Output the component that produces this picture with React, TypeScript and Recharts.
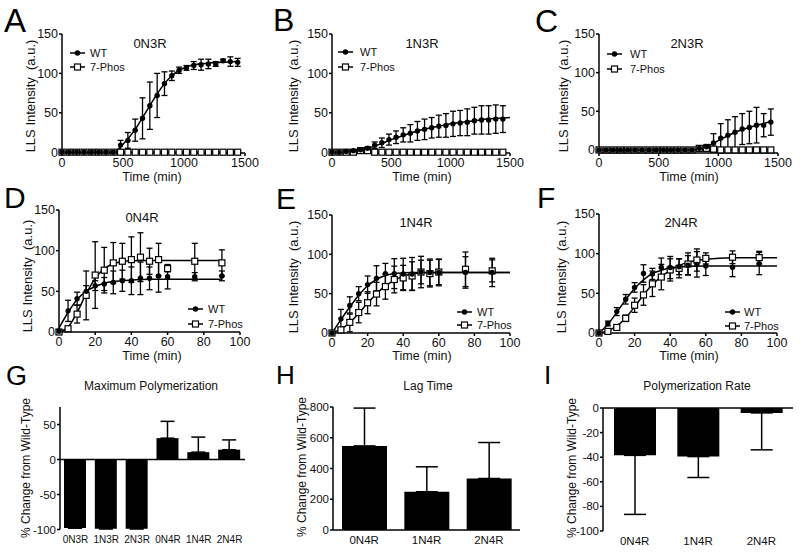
import React from 'react';
import { ComposedChart, BarChart, Bar, Line, Scatter, XAxis, YAxis, ErrorBar, ReferenceLine } from 'recharts';

const FONT = '"Liberation Sans", Arial, Helvetica, sans-serif';
const INK = '#111';

// ---------- Row 1: 3R isoforms, sampled every 60 min ----------
const t3R = [0, 60, 120, 180, 240, 300, 360, 420, 480, 540, 600, 660, 720, 780, 840, 900, 960, 1020, 1080, 1140, 1200, 1260, 1320, 1380, 1440];

const wt0N3R = [0, 0, 0, 0, 0, 0, 0, 0, 9, 15, 28, 43, 59, 72, 87, 97, 104, 107, 110, 111, 112, 112, 116, 115, 114];
const wt0N3RErr = [0, 0, 0, 0, 0, 0, 0, 0, 6, 10, 14, 26, 30, 28, 15, 6, 4, 3, 5, 7, 6, 3, 2, 6, 5];
const ph0N3R = [0, 0, 0, 0, 0, 0, 0, 0, 0, 0, 0, 0, 0, 0, 0, 0, 0, 0, 0, 0, 0, 0, 0, 0, 0];
const ph0N3RErr = [0, 0, 0, 0, 0, 0, 0, 0, 0, 0, 0, 0, 0, 0, 0, 0, 0, 0, 0, 0, 0, 0, 0, 0, 1];
const fitT0N3R = [0, 420, 480, 540, 600, 660, 720, 780, 840, 900, 960, 1020, 1080, 1200, 1320, 1440];
const fitWt0N3R = [0, 0, 7, 17, 29, 44, 59, 74, 87, 97, 104, 108, 111, 113, 114, 115];
const fitPhT0N3R = [0, 1440];
const fitPh0N3R = [0, 0];

const wt1N3R = [0, 0, 1, 2, 3, 5, 9, 12, 16, 19, 22, 24, 27, 29, 31, 33, 34, 36, 37, 38, 40, 41, 41, 42, 42];
const wt1N3RErr = [0, 0, 0, 1, 2, 2, 4, 6, 7, 8, 9, 11, 12, 13, 13, 14, 15, 16, 16, 17, 17, 18, 18, 18, 17];
const ph1N3R = [0, 0, 0, 0, 2, 2, 0, 0, 0, 0, 0, 0, 0, 0, 0, 0, 0, 0, 0, 0, 0, 0, 0, 0, 0];
const ph1N3RErr = [0, 0, 0, 0, 1, 1, 0, 0, 0, 0, 0, 0, 0, 0, 0, 0, 0, 0, 0, 0, 0, 0, 0, 0, 1];
const fitT1N3R = [0, 120, 200, 300, 400, 500, 600, 700, 800, 900, 1000, 1100, 1200, 1300, 1400, 1500];
const fitWt1N3R = [0, 0, 1, 5, 10, 16, 21, 26, 30, 33, 36, 38, 40, 42, 43, 44];
const fitPhT1N3R = [0, 1440];
const fitPh1N3R = [0, 0];

const wt2N3R = [0, 0, 0, 0, 0, 0, 0, 0, 0, 0, 0, 0, 0, 0, 2, 4, 9, 15, 19, 23, 27, 29, 32, 32, 36];
const wt2N3RErr = [0, 0, 0, 0, 0, 0, 0, 0, 0, 0, 0, 0, 0, 0, 2, 3, 12, 19, 20, 20, 20, 21, 23, 15, 17];
const ph2N3R = [0, 0, 0, 0, 0, 0, 0, 0, 0, 0, 0, 0, 0, 0, 2, 2, 1, 0, 0, 0, 0, 0, 0, 0, 0];
const ph2N3RErr = [0, 0, 0, 0, 0, 0, 0, 0, 0, 0, 0, 0, 0, 0, 1, 1, 1, 0, 0, 0, 0, 0, 0, 0, 1];
const fitT2N3R = [0, 780, 850, 900, 950, 1000, 1100, 1200, 1300, 1400, 1440];
const fitWt2N3R = [0, 0, 1, 4, 8, 12, 20, 26, 31, 35, 37];
const fitPhT2N3R = [0, 1440];
const fitPh2N3R = [0, 0];

// ---------- Row 2: 4R isoforms, minutes ----------
const t4R = [0, 5, 10, 15, 20, 25, 30, 35, 40, 45, 50, 55, 60, 75, 90];

const wt0N4R = [1, 26, 41, 50, 57, 59, 61, 63, 63, 66, 66, 69, 68, 68, 69];
const wt0N4RErr = [0, 13, 8, 7, 6, 8, 14, 13, 17, 20, 14, 20, 15, 5, 6];
const ph0N4R = [0, 4, 22, 45, 70, 76, 85, 87, 89, 92, 87, 89, 78, 87, 85];
const ph0N4RErr = [0, 2, 11, 30, 41, 28, 25, 22, 28, 30, 16, 20, 4, 22, 16];
const fitT0N4R = [0, 5, 10, 15, 20, 25, 30, 35, 40, 50, 60, 75, 90];
const fitWt0N4R = [5, 24, 40, 50, 56, 60, 62, 63, 64, 65, 65, 65, 65];
const fitPh0N4R = [0, 6, 24, 47, 66, 78, 84, 86.5, 87.5, 88, 88, 88, 88];

const wt1N4R = [0, 18, 35, 50, 61.5, 69.5, 75.5, 75.5, 75, 75, 77.5, 77, 77, 77, 77];
const wt1N4RErr = [0, 12, 11, 9, 11, 16, 13, 19, 20, 21, 20, 17, 17, 20, 18];
const ph1N4R = [0, 4, 13.5, 26, 38.5, 49.5, 59, 68, 70, 72.5, 77.5, 75.5, 77.5, 81, 79];
const ph1N4RErr = [0, 3, 12, 13, 14, 15, 16, 17, 16, 18, 15, 17, 16, 22, 14];
const fitT1N4R = [0, 5, 10, 15, 20, 25, 30, 35, 40, 45, 50, 60, 100];
const fitWt1N4R = [0, 17, 33, 48, 60, 68, 73, 75.5, 76.5, 77, 77, 77, 77];
const fitPh1N4R = [0, 5, 13, 25, 38, 50, 60, 67, 72, 75, 76.5, 77, 77];

const wt2N4R = [0, 12, 27, 42.5, 57.5, 75, 74.5, 82.5, 82.5, 83.5, 85.5, 86.5, 84.5, 83, 87.5];
const wt2N4RErr = [0, 3, 5, 6, 6, 11, 7, 12, 14, 10, 12, 16, 12, 12, 14];
const ph2N4R = [0, 2, 7, 18.5, 35, 48, 62, 70.5, 79.5, 81.5, 87, 92, 94, 95.5, 95];
const ph2N4RErr = [0, 1, 2, 4, 9, 13, 16, 16, 14, 12, 14, 14, 7, 8, 8];
const fitT2N4R = [0, 5, 10, 15, 20, 25, 30, 35, 40, 45, 50, 60, 75, 100];
const fitWt2N4R = [0, 11, 26, 42, 56, 67, 75, 79, 82, 83, 84, 84.5, 84.5, 84.5];
const fitPh2N4R = [0, 3, 9, 19, 33, 48, 61, 71, 79, 85, 89, 93, 95, 95];

// ---------- Row 3: summary bars ----------
const maxCats = ['0N3R', '1N3R', '2N3R', '0N4R', '1N4R', '2N4R'];
const maxVals = [-98, -99, -99, 30.5, 10.5, 14];
const maxErrUp = [0, 0, 0, 24, 21.5, 14];

const lagCats = ['0N4R', '1N4R', '2N4R'];
const lagVals = [547, 249, 335];
const lagErrUp = [246, 162, 234];

const rateCats = ['0N4R', '1N4R', '2N4R'];
const rateVals = [-38.5, -39.5, -4];
const rateErrDown = [48, 17, 30];

const mk = (ts: number[], ys: number[], es: number[]) => ts.map((t, i) => ({ t, y: ys[i], e: es[i] }));
const mkFit = (ts: number[], ys: number[]) => ts.map((t, i) => ({ t, y: ys[i] }));

const AXIS = { stroke: '#000', strokeWidth: 1.5 };

const SquareShape = (p: any) => {
  if (p.cx == null || p.cy == null) return <g />;
  return <rect x={p.cx - 3} y={p.cy - 3} width={6} height={6} fill="#fff" stroke="#000" strokeWidth={1.2} />;
};
const DotShape = (p: any) => {
  if (p.cx == null || p.cy == null) return <g />;
  return <circle cx={p.cx} cy={p.cy} r={2.7} fill="#000" />;
};

type LineProps = {
  rect: [number, number, number, number];
  xMax: number;
  xTicks: number[];
  wt: any[];
  ph: any[];
  wtFit: any[];
  phFit: any[];
};

function LinePanel({ rect, xMax, xTicks, wt, ph, wtFit, phFit }: LineProps) {
  const L = 40, T = 10, R = 14, B = 22;
  const [x0, y0, x1, y1] = rect;
  const w = x1 - x0 + L + R;
  const h = y1 - y0 + T + B;
  return (
    <div style={{ position: 'absolute', left: x0 - L, top: y0 - T }}>
      <ComposedChart width={w} height={h} margin={{ top: T, right: R, bottom: 0, left: 0 }}>
        <XAxis
          type="number"
          dataKey="t"
          domain={[0, xMax]}
          ticks={xTicks}
          interval={0}
          height={B}
          tickSize={3}
          tickMargin={2}
          axisLine={AXIS}
          tickLine={AXIS}
          tick={{ fill: INK, fontSize: 12.5, fontFamily: FONT }}
        />
        <YAxis
          type="number"
          dataKey="y"
          domain={[0, 150]}
          ticks={[0, 50, 100, 150]}
          interval={0}
          width={L}
          tickSize={3}
          tickMargin={1}
          axisLine={AXIS}
          tickLine={AXIS}
          tick={{ fill: INK, fontSize: 12.5, fontFamily: FONT }}
        />
        <Line data={phFit} dataKey="y" type="monotone" stroke="#000" strokeWidth={1.5} dot={false} isAnimationActive={false} />
        <Line data={wtFit} dataKey="y" type="monotone" stroke="#000" strokeWidth={1.5} dot={false} isAnimationActive={false} />
        <Scatter data={ph} dataKey="y" shape={SquareShape} isAnimationActive={false}>
          <ErrorBar dataKey="e" direction="y" width={3} stroke="#000" strokeWidth={1.3} />
        </Scatter>
        <Scatter data={wt} dataKey="y" shape={DotShape} isAnimationActive={false}>
          <ErrorBar dataKey="e" direction="y" width={3} stroke="#000" strokeWidth={1.3} />
        </Scatter>
      </ComposedChart>
    </div>
  );
}

type BarProps = {
  rect: [number, number, number, number];
  cats: string[];
  vals: number[];
  errs: [number, number][];
  domain: [number, number];
  ticks: number[];
  barSize: number;
  capHalf: number;
  zeroLine: boolean;
  xLine: boolean;
  catSize: number;
};

function BarPanel({ rect, cats, vals, errs, domain, ticks, barSize, capHalf, zeroLine, xLine, catSize }: BarProps) {
  const L = 40, T = 10, R = 8, B = 22;
  const [x0, y0, x1, y1] = rect;
  const w = x1 - x0 + L + R;
  const h = y1 - y0 + T + B;
  const data = cats.map((name, i) => ({ name, v: vals[i], err: errs[i] }));
  return (
    <div style={{ position: 'absolute', left: x0 - L, top: y0 - T }}>
      <BarChart width={w} height={h} data={data} margin={{ top: T, right: R, bottom: 0, left: 0 }}>
        <XAxis
          dataKey="name"
          type="category"
          interval={0}
          height={B}
          axisLine={xLine ? AXIS : false}
          tickLine={false}
          tickSize={0}
          tickMargin={6}
          tick={{ fill: INK, fontSize: catSize, fontFamily: FONT }}
        />
        <YAxis
          type="number"
          domain={domain}
          ticks={ticks}
          interval={0}
          width={L}
          tickSize={3}
          tickMargin={1}
          axisLine={AXIS}
          tickLine={AXIS}
          tick={{ fill: INK, fontSize: 11.5, fontFamily: FONT }}
        />
        <Bar dataKey="v" fill="#000" barSize={barSize} isAnimationActive={false}>
          <ErrorBar dataKey="err" direction="y" width={capHalf} stroke="#000" strokeWidth={1.5} />
        </Bar>
        {zeroLine && <ReferenceLine y={0} stroke="#000" strokeWidth={1.5} />}
      </BarChart>
    </div>
  );
}

function LegendRows({ x, y1, y2, tx }: { x: number; y1: number; y2: number; tx: number }) {
  const m = x + 7.5;
  return (
    <g>
      <line x1={x} x2={x + 15} y1={y1} y2={y1} stroke="#000" strokeWidth={1.5} />
      <circle cx={m} cy={y1} r={2.7} fill="#000" />
      <text x={tx} y={y1 + 4} fontSize={11} fontFamily={FONT} fill={INK}>WT</text>
      <line x1={x} x2={x + 15} y1={y2} y2={y2} stroke="#000" strokeWidth={1.5} />
      <rect x={m - 3} y={y2 - 3} width={6} height={6} fill="#fff" stroke="#000" strokeWidth={1.2} />
      <text x={tx} y={y2 + 4} fontSize={11} fontFamily={FONT} fill={INK}>7-Phos</text>
    </g>
  );
}

const YLab = ({ x, y, text, size }: { x: number; y: number; text: string; size: number }) => (
  <text transform={`translate(${x},${y}) rotate(-90)`} textAnchor="middle" fontSize={size} fontFamily={FONT} fill={INK} style={{ whiteSpace: 'pre' }}>
    {text}
  </text>
);
const CText = ({ x, y, text, size }: { x: number; y: number; text: string; size: number }) => (
  <text x={x} y={y} textAnchor="middle" fontSize={size} fontFamily={FONT} fill={INK}>{text}</text>
);
const Letter = ({ x, y, text, size }: { x: number; y: number; text: string; size: number }) => (
  <text x={x} y={y} fontSize={size} fontFamily={FONT} fill="#000">{text}</text>
);

export default function App() {
  const xt3 = [0, 500, 1000, 1500];
  const xt4 = [0, 20, 40, 60, 80, 100];
  const up = (e: number[]) => e.map((v) => [0, v] as [number, number]);
  const down = (e: number[]) => e.map((v) => [v, 0] as [number, number]);
  return (
    <div style={{ position: 'absolute', left: 0, top: 0, width: 800, height: 552, background: '#fff', overflow: 'hidden', fontFamily: FONT }}>
      <LinePanel rect={[62, 34, 245, 153]} xMax={1500} xTicks={xt3}
        wt={mk(t3R, wt0N3R, wt0N3RErr)} ph={mk(t3R, ph0N3R, ph0N3RErr)}
        wtFit={mkFit(fitT0N3R, fitWt0N3R)} phFit={mkFit(fitPhT0N3R, fitPh0N3R)} />
      <LinePanel rect={[332, 34, 510, 153]} xMax={1500} xTicks={xt3}
        wt={mk(t3R, wt1N3R, wt1N3RErr)} ph={mk(t3R, ph1N3R, ph1N3RErr)}
        wtFit={mkFit(fitT1N3R, fitWt1N3R)} phFit={mkFit(fitPhT1N3R, fitPh1N3R)} />
      <LinePanel rect={[599, 34, 778, 153]} xMax={1500} xTicks={xt3}
        wt={mk(t3R, wt2N3R, wt2N3RErr)} ph={mk(t3R, ph2N3R, ph2N3RErr)}
        wtFit={mkFit(fitT2N3R, fitWt2N3R)} phFit={mkFit(fitPhT2N3R, fitPh2N3R)} />

      <LinePanel rect={[59, 210, 240, 332]} xMax={100} xTicks={xt4}
        wt={mk(t4R, wt0N4R, wt0N4RErr)} ph={mk(t4R, ph0N4R, ph0N4RErr)}
        wtFit={mkFit(fitT0N4R, fitWt0N4R)} phFit={mkFit(fitT0N4R, fitPh0N4R)} />
      <LinePanel rect={[332, 215, 510, 333]} xMax={100} xTicks={xt4}
        wt={mk(t4R, wt1N4R, wt1N4RErr)} ph={mk(t4R, ph1N4R, ph1N4RErr)}
        wtFit={mkFit(fitT1N4R, fitWt1N4R)} phFit={mkFit(fitT1N4R, fitPh1N4R)} />
      <LinePanel rect={[599, 214, 777, 333]} xMax={100} xTicks={xt4}
        wt={mk(t4R, wt2N4R, wt2N4RErr)} ph={mk(t4R, ph2N4R, ph2N4RErr)}
        wtFit={mkFit(fitT2N4R, fitWt2N4R)} phFit={mkFit(fitT2N4R, fitPh2N4R)} />

      <BarPanel rect={[60, 406.5, 245, 529]} cats={maxCats} vals={maxVals} errs={up(maxErrUp)}
        domain={[-100, 75]} ticks={[-100, -50, 0, 50]} barSize={22} capHalf={7} zeroLine={true} xLine={false} catSize={10} />
      <BarPanel rect={[333, 407, 520, 530]} cats={lagCats} vals={lagVals} errs={up(lagErrUp)}
        domain={[0, 800]} ticks={[0, 200, 400, 600, 800]} barSize={45} capHalf={11} zeroLine={false} xLine={true} catSize={11.5} />
      <BarPanel rect={[603, 408, 793, 531]} cats={rateCats} vals={rateVals} errs={down(rateErrDown)}
        domain={[-100, 0]} ticks={[-100, -80, -60, -40, -20, 0]} barSize={42} capHalf={11} zeroLine={true} xLine={false} catSize={11.5} />

      <svg width={800} height={552} style={{ position: 'absolute', left: 0, top: 0, pointerEvents: 'none' }}>
        <Letter x={4} y={32} text="A" size={33} />
        <Letter x={273} y={31} text="B" size={32} />
        <Letter x={535} y={32} text="C" size={32} />
        <Letter x={4} y={208} text="D" size={30} />
        <Letter x={276} y={209} text="E" size={30} />
        <Letter x={537} y={208} text="F" size={30} />
        <Letter x={6} y={385} text="G" size={27} />
        <Letter x={276} y={384} text="H" size={26} />
        <Letter x={544} y={384} text="I" size={26} />

        <CText x={150} y={48} text="0N3R" size={13} />
        <CText x={422} y={48} text="1N3R" size={13} />
        <CText x={687} y={48} text="2N3R" size={13} />
        <CText x={142} y={222} text="0N4R" size={13} />
        <CText x={416} y={227} text="1N4R" size={13} />
        <CText x={681} y={227} text="2N4R" size={13} />

        <LegendRows x={70} y1={53} y2={67} tx={90} />
        <LegendRows x={338} y1={52} y2={67} tx={360} />
        <LegendRows x={607} y1={54} y2={69} tx={630} />
        <LegendRows x={188} y1={309} y2={324} tx={208} />
        <LegendRows x={457} y1={312} y2={325} tx={477} />
        <LegendRows x={725} y1={312} y2={326} tx={744} />

        <YLab x={35} y={96} text="LLS Intensity  (a.u.)" size={13} />
        <YLab x={298} y={96} text="LLS Intensity  (a.u.)" size={13} />
        <YLab x={568} y={96} text="LLS Intensity  (a.u.)" size={13} />
        <YLab x={32} y={276} text="LLS Intensity  (a.u.)" size={13} />
        <YLab x={298} y={277} text="LLS Intensity  (a.u.)" size={13} />
        <YLab x={566} y={277} text="LLS Intensity  (a.u.)" size={13} />
        <YLab x={30} y={468} text="% Change from Wild-Type" size={12} />
        <YLab x={306} y={467} text="% Change from Wild-Type" size={12} />
        <YLab x={576} y={468} text="% Change from Wild-Type" size={12} />

        <CText x={152} y={181} text="Time (min)" size={12.5} />
        <CText x={422} y={181} text="Time (min)" size={12.5} />
        <CText x={689} y={181} text="Time (min)" size={12.5} />
        <CText x={152} y={360} text="Time (min)" size={12.5} />
        <CText x={422} y={360} text="Time (min)" size={12.5} />
        <CText x={689} y={360} text="Time (min)" size={12.5} />

        <CText x={151} y={390} text="Maximum Polymerization" size={12} />
        <CText x={428} y={390} text="Lag Time" size={12} />
        <CText x={697} y={390} text="Polymerization Rate" size={12} />
      </svg>
    </div>
  );
}
